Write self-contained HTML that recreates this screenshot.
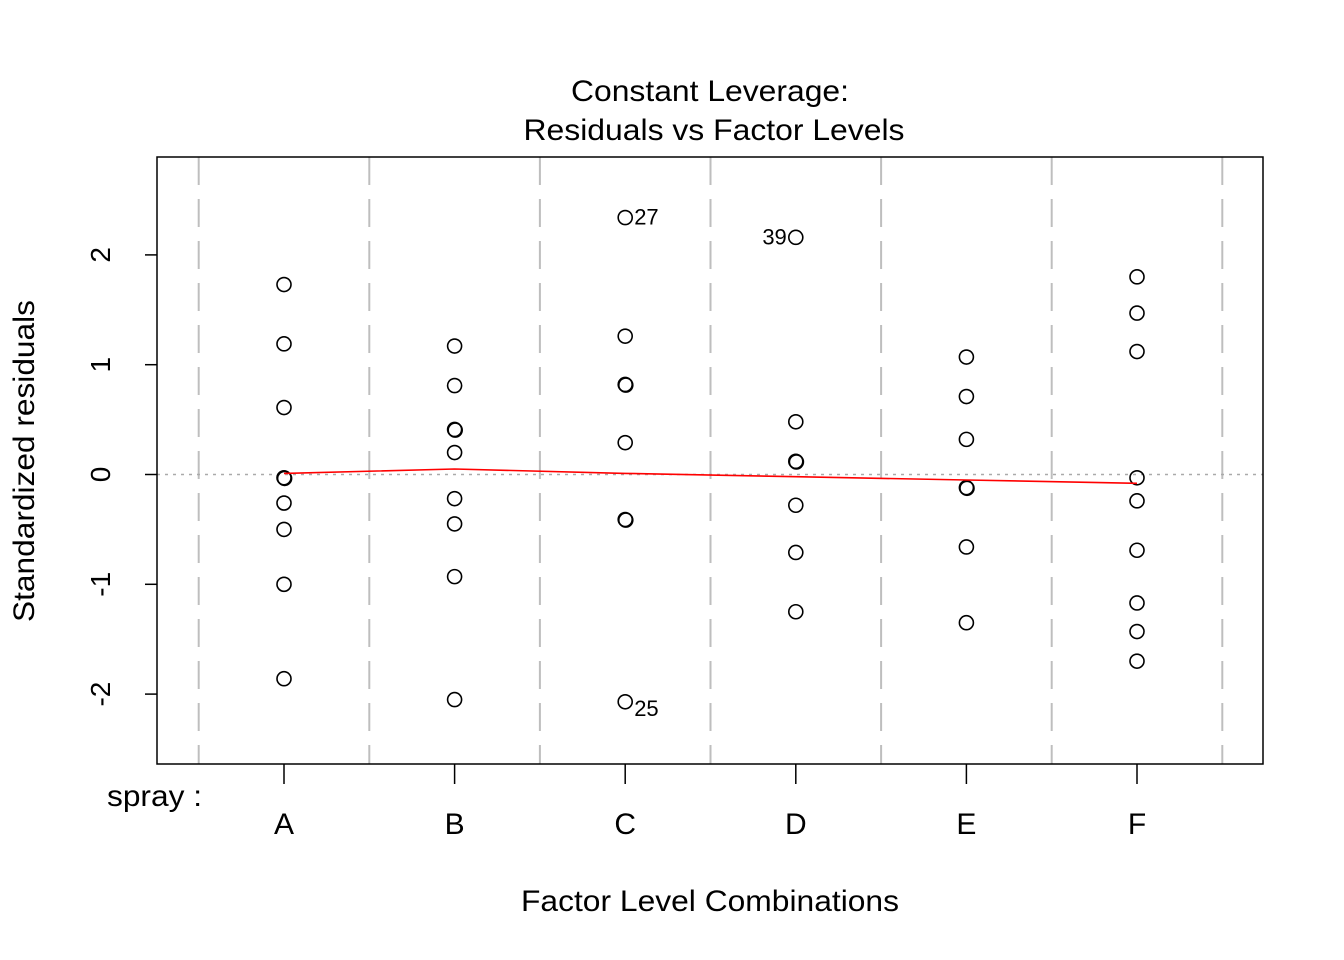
<!DOCTYPE html>
<html><head><meta charset="utf-8"><style>
html,body{margin:0;padding:0;background:#fff}
svg{display:block;font-family:"Liberation Sans",Arial,sans-serif}
</style></head><body>
<svg id="chart" width="1344" height="960" viewBox="0 0 1344 960" xmlns="http://www.w3.org/2000/svg">
<text x="710" y="101" font-size="30" text-anchor="middle" textLength="278" lengthAdjust="spacingAndGlyphs">Constant Leverage:</text>
<text x="714" y="140" font-size="30" text-anchor="middle" textLength="381" lengthAdjust="spacingAndGlyphs">Residuals vs Factor Levels</text>
<text x="710" y="911" font-size="30" text-anchor="middle" textLength="378" lengthAdjust="spacingAndGlyphs">Factor Level Combinations</text>
<text transform="translate(34,461) rotate(-90)" font-size="30" text-anchor="middle" textLength="322" lengthAdjust="spacingAndGlyphs">Standardized residuals</text>
<text x="202" y="806" font-size="30" text-anchor="end" textLength="95" lengthAdjust="spacingAndGlyphs">spray :</text>
<g id="grid"></g><g id="axes"></g><g id="marks"></g>
<rect x="157" y="157" width="1106" height="607" fill="none" stroke="#000" stroke-width="1.5"/>
</svg>
<script>
const categories=["A","B","C","D","E","F"];
const residA=[1.73,1.19,0.61,-0.03,-0.03,-0.26,-0.50,-1.0,-1.86];
const residB=[1.17,0.81,0.41,0.41,0.20,-0.22,-0.45,-0.93,-2.05];
const residC=[2.34,1.26,0.82,0.82,0.29,-0.41,-0.41,-2.07];
const residD=[2.16,0.48,0.12,0.12,-0.28,-0.71,-1.25];
const residE=[1.07,0.71,0.32,-0.12,-0.12,-0.66,-1.35];
const residF=[1.80,1.47,1.12,-0.03,-0.24,-0.69,-1.17,-1.43,-1.70];
const smoothLine=[0.01,0.05,0.01,-0.02,-0.05,-0.08];
const yTicks=[-2,-1,0,1,2];
const outliers=[{cat:2,val:2.34,label:"27",side:"right"},{cat:3,val:2.16,label:"39",side:"left"},{cat:2,val:-2.07,label:"25",side:"below"}];
const NS="http://www.w3.org/2000/svg";
const xs=i=>284+i*170.6;
const ys=v=>474.5-v*109.8;
function mk(tag,attrs,parent){const e=document.createElementNS(NS,tag);for(const k in attrs)e.setAttribute(k,attrs[k]);document.getElementById(parent).appendChild(e);return e;}
for(let i=0;i<=categories.length;i++){
 const x=xs(i-0.5);
 const l=mk('line',{x1:x,x2:x,y1:157,y2:764,stroke:'#bebebe','stroke-width':2,'stroke-dasharray':'28,14'},'grid');
 
 
}
const h=mk('line',{x1:157,x2:1263,y1:ys(0),y2:ys(0),stroke:'#aaa','stroke-width':1.5,'stroke-dasharray':'3,5'},'grid');


yTicks.forEach(t=>{
 const y=ys(t);
 const l=mk('line',{x1:145,x2:157,y1:y,y2:y,stroke:'#000','stroke-width':1.5},'axes');
 
 
 const tx=mk('text',{transform:`translate(110,${y}) rotate(-90)`,'font-size':28,'text-anchor':'middle'},'axes');
 tx.textContent=String(t);
 
 
});
categories.forEach((c,i)=>{
 const x=xs(i);
 const l=mk('line',{x1:x,x2:x,y1:764,y2:784,stroke:'#000','stroke-width':1.5},'axes');
 
 
 const tx=mk('text',{x:x,y:834,'font-size':30,'text-anchor':'middle'},'axes');
 tx.textContent=c;
 
 
});
[residA,residB,residC,residD,residE,residF].forEach((arr,i)=>{
 const seen={};
 arr.forEach(v=>{
  const k=v.toFixed(2);const off=seen[k]?0.6:0;seen[k]=1;
  const p=mk('circle',{cx:xs(i)+off,cy:ys(v)+off,r:7,fill:'none',stroke:'#000','stroke-width':1.6},'marks');
  
  
 });
});
const pl=mk('polyline',{points:smoothLine.map((v,i)=>xs(i)+','+ys(v)).join(' '),fill:'none',stroke:'#ff0000','stroke-width':1.6},'marks');


outliers.forEach(o=>{
 const x=xs(o.cat),y=ys(o.val);
 let a={'font-size':22};
 if(o.side==='right'){a.x=x+9;a.y=y+7;a['text-anchor']='start';}
 else if(o.side==='left'){a.x=x-9;a.y=y+7;a['text-anchor']='end';}
 else {a.x=x+9;a.y=y+14;a['text-anchor']='start';}
 const t=mk('text',a,'marks');
 t.textContent=o.label;
 
 
});
</script>
</body></html>
